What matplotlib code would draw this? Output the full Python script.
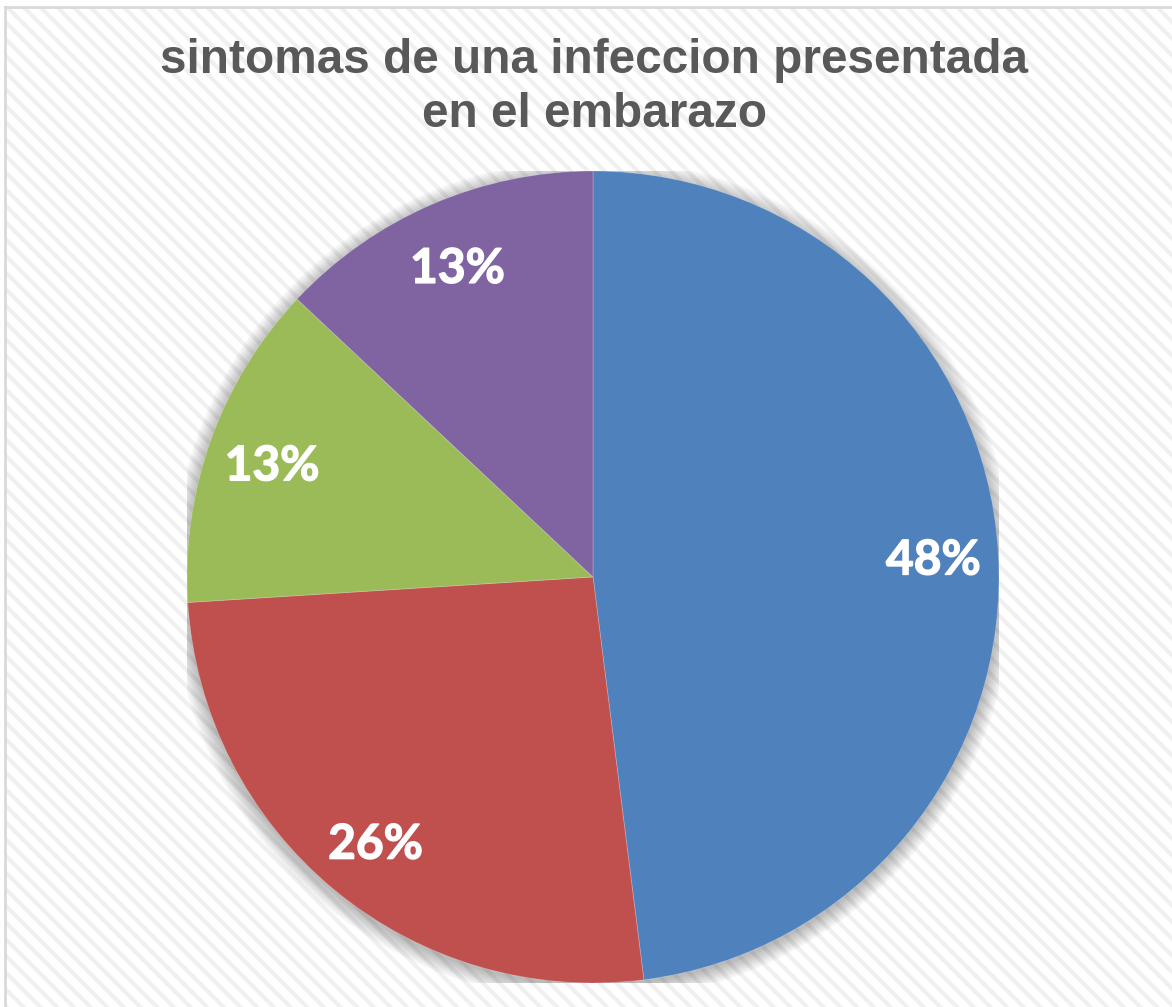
import matplotlib
matplotlib.use("Agg")
import matplotlib.pyplot as plt
import matplotlib.patheffects as pe
from matplotlib.patches import Rectangle, Circle

# chart data
titulo = ["sintomas de una infeccion presentada", "en el embarazo"]
porcentajes = [48, 26, 13, 13]
colores = ["#4F81BD", "#C0504D", "#9BBB59", "#8064A2"]

W, H = 1172, 1007
plt.rcParams['hatch.linewidth'] = 3.0
fig = plt.figure(figsize=(W / 100, H / 100), dpi=100)
fig.patch.set_facecolor("white")

# striped background + border on left/top
bg = Rectangle((6 / W, -0.01), 1.02 - 6 / W, 1.01 - 7 / H, transform=fig.transFigure,
               facecolor="white", edgecolor="#f0f0f0", hatch="\\\\", lw=0, zorder=-5)
fig.add_artist(bg)
fig.add_artist(plt.Line2D([5 / W, 5 / W], [0, 1 - 7 / H], color="#d9d9d9", lw=2,
                          transform=fig.transFigure, zorder=-4))
fig.add_artist(plt.Line2D([5 / W, 1.01], [1 - 7 / H, 1 - 7 / H], color="#d9d9d9", lw=2,
                          transform=fig.transFigure, zorder=-4))

# title
for linea, yb in zip(titulo, [73, 127]):
    fig.text(594 / W, 1 - yb / H, linea, ha="center", va="baseline",
             fontsize=34.4, fontweight="bold", color="#595959", family="Liberation Sans")

# pie axes: center (593,577), radius 406 px
cx, cy, r = 593, 577, 406
ax = fig.add_axes([(cx - r) / W, (H - cy - r) / H, 2 * r / W, 2 * r / H])
ax.set_zorder(2)
ax.patch.set_visible(False)
ax.axis("off")

# soft shadow
for k in range(12):
    ax.add_patch(Circle((0, -0.008), 1.0 + k * 0.0035, facecolor="#000000",
                        alpha=0.022, lw=0, zorder=0))

wedges, textos, autotextos = ax.pie(
    porcentajes, colors=colores, startangle=90, counterclock=False,
    autopct="%1.0f%%", pctdistance=0.84, radius=1.0,
    wedgeprops=dict(lw=0.6, edgecolor="#ffffff40"),
    textprops=dict(color="white", fontsize=34.5, fontweight="bold", family="Lato"))
for w in wedges:
    w.set_zorder(2)
for t in autotextos:
    t.set_zorder(3)
    t.set_path_effects([pe.withStroke(linewidth=1.0, foreground="white")])
    x, y = t.get_position()
    t.set_position((x, y - 0.012))
ax.set_xlim(-1, 1)
ax.set_ylim(-1, 1)
ax.set_aspect("equal")

fig.savefig("out.png", dpi=100)
